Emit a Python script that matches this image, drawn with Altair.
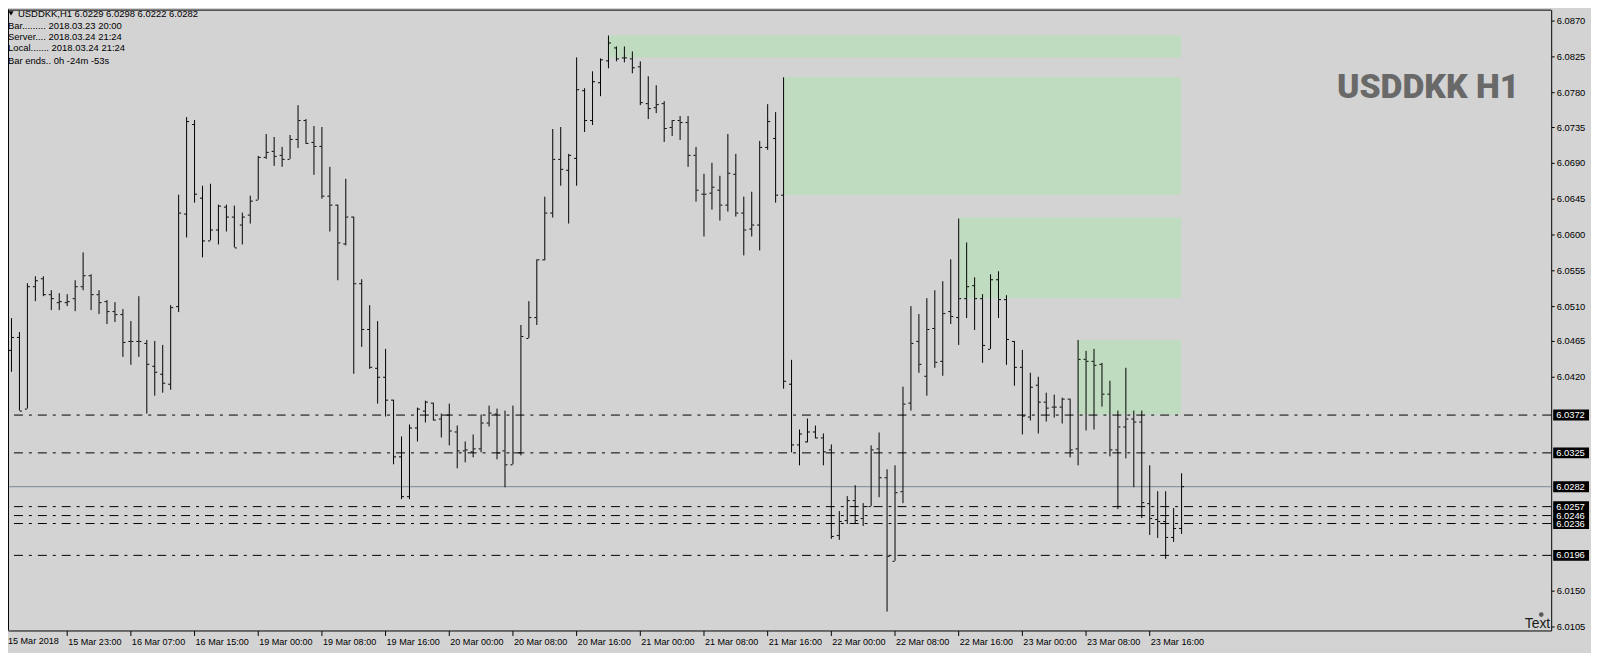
import altair as alt
import pandas as pd

# ---------------- data ----------------
opens = [6.0455, 6.0454, 6.0471, 6.0380, 6.0535, 6.0545, 6.0525, 6.0515, 6.0515, 6.0519,
         6.0534, 6.0548, 6.0525, 6.0516, 6.0503, 6.0500, 6.0466, 6.0466, 6.0463, 6.0434,
         6.0424, 6.0412, 6.0510, 6.0626, 6.0739, 6.0647, 6.0593, 6.0606, 6.0635, 6.0623,
         6.0612, 6.0625, 6.0644, 6.0698, 6.0706, 6.0700, 6.0695, 6.0720, 6.0745, 6.0717,
         6.0712, 6.0649, 6.0637, 6.0589, 6.0623, 6.0539, 6.0481, 6.0432, 6.0420, 6.0391,
         6.0320, 6.0270, 6.0356, 6.0378, 6.0388, 6.0367, 6.0373, 6.0351, 6.0327, 6.0326,
         6.0330, 6.0363, 6.0374, 6.0327, 6.0310, 6.0325, 6.0469, 6.0496, 6.0568, 6.0628,
         6.0695, 6.0682, 6.0697, 6.0782, 6.0744, 6.0792, 6.0820, 6.0836, 6.0823, 6.0822,
         6.0812, 6.0766, 6.0761, 6.0766, 6.0735, 6.0744, 6.0742, 6.0701, 6.0652, 6.0653,
         6.0657, 6.0637, 6.0677, 6.0628, 6.0607, 6.0613, 6.0710, 6.0722, 6.0650, 6.0412,
         6.0335, 6.0339, 6.0351, 6.0344, 6.0328, 6.0221, 6.0239, 6.0265, 6.0242, 6.0257,
         6.0330, 6.0293, 6.0188, 6.0276, 6.0388, 6.0465, 6.0422, 6.0482, 6.0440, 6.0503,
         6.0496, 6.0519, 6.0536, 6.0519, 6.0456, 6.0544, 6.0518, 6.0466, 6.0433, 6.0370,
         6.0410, 6.0389, 6.0383, 6.0383, 6.0393, 6.0330, 6.0443, 6.0440, 6.0436, 6.0399,
         6.0329, 6.0358, 6.0367, 6.0364, 6.0261, 6.0241, 6.0238, 6.0218, 6.0229]
highs = [6.0457, 6.0494, 6.0477, 6.0539, 6.0547, 6.0547, 6.0529, 6.0526, 6.0525, 6.0542,
         6.0577, 6.0550, 6.0530, 6.0517, 6.0515, 6.0506, 6.0491, 6.0522, 6.0467, 6.0465,
         6.0461, 6.0511, 6.0650, 6.0748, 6.0744, 6.0662, 6.0664, 6.0637, 6.0637, 6.0636,
         6.0627, 6.0649, 6.0699, 6.0727, 6.0723, 6.0710, 6.0726, 6.0763, 6.0746, 6.0737,
         6.0735, 6.0685, 6.0637, 6.0670, 6.0623, 6.0544, 6.0511, 6.0491, 6.0455, 6.0391,
         6.0345, 6.0360, 6.0381, 6.0390, 6.0388, 6.0374, 6.0386, 6.0359, 6.0339, 6.0347,
         6.0373, 6.0384, 6.0380, 6.0378, 6.0384, 6.0486, 6.0516, 6.0569, 6.0648, 6.0733,
         6.0735, 6.0702, 6.0824, 6.0785, 6.0806, 6.0822, 6.0851, 6.0837, 6.0837, 6.0831,
         6.0818, 6.0800, 6.0788, 6.0768, 6.0745, 6.0749, 6.0749, 6.0711, 6.0676, 6.0690,
         6.0674, 6.0727, 6.0702, 6.0648, 6.0654, 6.0718, 6.0764, 6.0755, 6.0798, 6.0442,
         6.0354, 6.0367, 6.0359, 6.0349, 6.0335, 6.0251, 6.0270, 6.0284, 6.0261, 6.0333,
         6.0350, 6.0304, 6.0309, 6.0408, 6.0510, 6.0500, 6.0520, 6.0529, 6.0541, 6.0569,
         6.0620, 6.0590, 6.0546, 6.0525, 6.0550, 6.0553, 6.0523, 6.0466, 6.0454, 6.0425,
         6.0420, 6.0400, 6.0398, 6.0394, 6.0393, 6.0467, 6.0453, 6.0455, 6.0438, 6.0415,
         6.0378, 6.0432, 6.0378, 6.0378, 6.0309, 6.0276, 6.0276, 6.0255, 6.0298]
lows = [6.0315, 6.0427, 6.0377, 6.0380, 6.0516, 6.0522, 6.0504, 6.0504, 6.0509, 6.0503,
        6.0530, 6.0504, 6.0499, 6.0487, 6.0490, 6.0445, 6.0435, 6.0446, 6.0374, 6.0396,
        6.0400, 6.0404, 6.0502, 6.0596, 6.0640, 6.0571, 6.0592, 6.0587, 6.0604, 6.0583,
        6.0587, 6.0614, 6.0644, 6.0696, 6.0687, 6.0685, 6.0695, 6.0709, 6.0714, 6.0675,
        6.0645, 6.0604, 6.0542, 6.0586, 6.0424, 6.0458, 6.0430, 6.0386, 6.0370, 6.0310,
        6.0266, 6.0266, 6.0339, 6.0363, 6.0365, 6.0344, 6.0334, 6.0305, 6.0312, 6.0319,
        6.0325, 6.0358, 6.0316, 6.0281, 6.0310, 6.0321, 6.0469, 6.0486, 6.0567, 6.0621,
        6.0662, 6.0614, 6.0662, 6.0729, 6.0738, 6.0775, 6.0810, 6.0818, 6.0817, 6.0803,
        6.0763, 6.0746, 6.0753, 6.0717, 6.0724, 6.0719, 6.0685, 6.0641, 6.0597, 6.0631,
        6.0617, 6.0629, 6.0623, 6.0573, 6.0597, 6.0580, 6.0707, 6.0640, 6.0405, 6.0325,
        6.0309, 6.0337, 6.0342, 6.0309, 6.0215, 6.0214, 6.0235, 6.0236, 6.0232, 6.0257,
        6.0268, 6.0124, 6.0188, 6.0261, 6.0377, 6.0425, 6.0396, 6.0431, 6.0422, 6.0487,
        6.0461, 6.0494, 6.0479, 6.0438, 6.0456, 6.0495, 6.0435, 6.0409, 6.0348, 6.0365,
        6.0349, 6.0364, 6.0369, 6.0361, 6.0318, 6.0309, 6.0352, 6.0354, 6.0383, 6.0320,
        6.0253, 6.0317, 6.0281, 6.0242, 6.0220, 6.0217, 6.0190, 6.0212, 6.0222]
closes = [6.0454, 6.0471, 6.0378, 6.0535, 6.0542, 6.0525, 6.0519, 6.0516, 6.0516, 6.0534,
          6.0548, 6.0525, 6.0515, 6.0503, 6.0499, 6.0464, 6.0466, 6.0466, 6.0436, 6.0426,
          6.0413, 6.0508, 6.0627, 6.0743, 6.0652, 6.0593, 6.0606, 6.0636, 6.0622, 6.0584,
          6.0623, 6.0643, 6.0698, 6.0704, 6.0699, 6.0695, 6.0720, 6.0745, 6.0715, 6.0712,
          6.0649, 6.0637, 6.0590, 6.0622, 6.0539, 6.0481, 6.0433, 6.0420, 6.0391, 6.0320,
          6.0270, 6.0356, 6.0380, 6.0389, 6.0366, 6.0373, 6.0352, 6.0327, 6.0328, 6.0330,
          6.0363, 6.0375, 6.0325, 6.0310, 6.0325, 6.0472, 6.0496, 6.0569, 6.0628, 6.0696,
          6.0683, 6.0700, 6.0783, 6.0744, 6.0793, 6.0821, 6.0842, 6.0822, 6.0823, 6.0811,
          6.0767, 6.0760, 6.0764, 6.0734, 6.0745, 6.0742, 6.0700, 6.0657, 6.0652, 6.0660,
          6.0638, 6.0678, 6.0628, 6.0606, 6.0613, 6.0710, 6.0743, 6.0650, 6.0415, 6.0335,
          6.0349, 6.0351, 6.0344, 6.0326, 6.0219, 6.0238, 6.0265, 6.0240, 6.0257, 6.0329,
          6.0293, 6.0194, 6.0274, 6.0387, 6.0463, 6.0437, 6.0480, 6.0439, 6.0501, 6.0497,
          6.0519, 6.0534, 6.0519, 6.0461, 6.0544, 6.0518, 6.0468, 6.0433, 6.0371, 6.0408,
          6.0389, 6.0381, 6.0383, 6.0393, 6.0329, 6.0443, 6.0440, 6.0435, 6.0399, 6.0329,
          6.0358, 6.0368, 6.0364, 6.0262, 6.0242, 6.0238, 6.0218, 6.0229, 6.0282]

time_labels = ["15 Mar 2018", "15 Mar 23:00", "16 Mar 07:00", "16 Mar 15:00",
               "19 Mar 00:00", "19 Mar 08:00", "19 Mar 16:00", "20 Mar 00:00",
               "20 Mar 08:00", "20 Mar 16:00", "21 Mar 00:00", "21 Mar 08:00",
               "21 Mar 16:00", "22 Mar 00:00", "22 Mar 08:00", "22 Mar 16:00",
               "23 Mar 00:00", "23 Mar 08:00", "23 Mar 16:00"]
label_step = 8

zone_start = [76, 98, 120, 135]
zone_end = [148, 148, 148, 148]
zone_top = [6.0851, 6.0798, 6.0621, 6.0467]
zone_bottom = [6.0823, 6.0650, 6.0519, 6.0373]

level_values = [6.0372, 6.0325, 6.0257, 6.0246, 6.0236, 6.0196]
bid_price = 6.0282

# price-scale labels that are not hidden under the level tags
y_ticks = [6.0105, 6.0150, 6.0420, 6.0465, 6.0510, 6.0555, 6.0600, 6.0645,
           6.0690, 6.0735, 6.0780, 6.0825, 6.0870]

header_lines = ["USDDKK,H1  6.0229 6.0298 6.0222 6.0282",
                "Bar......... 2018.03.23 20:00",
                "Server.... 2018.03.24 21:24",
                "Local....... 2018.03.24 21:24",
                "Bar ends.. 0h -24m -53s"]
watermark = "USDDKK H1"
object_label = "Text"

# ---------------- tables ----------------
bars = pd.DataFrame({"i": list(range(len(opens))), "o": opens, "h": highs,
                     "l": lows, "c": closes})
zones = pd.DataFrame({"s": zone_start, "e": zone_end, "t": zone_top, "b": zone_bottom})
levels = pd.DataFrame({"v": level_values})
tags = pd.DataFrame({"v": level_values[:2] + [bid_price] + level_values[2:]})
tags["label"] = tags["v"].map(lambda v: f"{v:.4f}")
one = pd.DataFrame({"a": [0]})

W, H = 1551, 624
FONT = "Liberation Sans"
BG = "#D3D3D3"

x_scale = alt.Scale(domain=[0.625, 194.5], round=True, nice=False, zero=False)
y_scale = alt.Scale(domain=[6.0099977, 6.0883818], round=True, nice=False, zero=False)

lab_js = "[" + ",".join("'" + s + "'" for s in time_labels[1:]) + "]"
x_axis = alt.Axis(orient="bottom", values=[label_step * k for k in range(1, len(time_labels))],
                  labelExpr=lab_js + f"[round(datum.value/{label_step})-1]",
                  title=None, grid=False, tickSize=5, tickColor="black", domainColor="black",
                  labelColor="black", labelFont=FONT, labelFontSize=9.1, labelAlign="left",
                  labelBaseline="top", labelPadding=2, labelOffset=1, labelOverlap=False,
                  labelFlush=False, zindex=0)
y_axis = alt.Axis(orient="right", values=y_ticks, format=".4f", title=None, grid=False,
                  tickSize=3, tickColor="black", domainColor="black", labelColor="black",
                  labelFont=FONT, labelFontSize=9.4, labelPadding=2, labelOverlap=False,
                  labelFlush=False, zindex=0)

def X(f):
    return alt.X(f, type="quantitative", scale=x_scale, axis=x_axis)

def Y(f):
    return alt.Y(f, type="quantitative", scale=y_scale, axis=y_axis)

zone_layer = alt.Chart(zones).mark_rect(color="#C0DCC0").encode(
    x=X("s"), x2="e", y=Y("t"), y2="b")

level_layer = alt.Chart(levels).mark_rule(
    color="black", strokeWidth=1, strokeDash=[9, 6, 3, 6], yOffset=0.5).encode(y=Y("v"))

bid_layer = alt.Chart(pd.DataFrame({"v": [bid_price]})).mark_rule(
    color="#778899", strokeWidth=1, yOffset=0.5).encode(y=Y("v"))

hl_layer = alt.Chart(bars).mark_rule(color="black", strokeWidth=1, xOffset=0.5).encode(
    x=X("i"), y=Y("l"), y2="h")

open_layer = alt.Chart(bars).transform_calculate(xa="datum.i - 0.25").mark_rule(
    color="black", strokeWidth=1, yOffset=0.5).encode(x=X("xa"), x2="i", y=Y("o"))

close_layer = alt.Chart(bars).transform_calculate(
    xa="datum.i + 0.125", xb="datum.i + 0.375").mark_rule(
    color="black", strokeWidth=1, yOffset=0.5).encode(x=X("xa"), x2="xb", y=Y("c"))

tag_box = alt.Chart(tags).mark_rule(color="black", strokeWidth=11, yOffset=0.5).encode(
    x=alt.value(W + 2), x2=alt.value(W + 38), y=Y("v"))
tag_text = alt.Chart(tags).mark_text(
    color="white", align="left", baseline="middle", font=FONT, fontSize=9.4, yOffset=0.5
).encode(x=alt.value(W + 5), y=Y("v"), text="label:N")

frame_left = alt.Chart(one).mark_rule(color="black", strokeWidth=1).encode(
    x=alt.value(0.5), y=alt.value(0), y2=alt.value(H))
frame_top = alt.Chart(one).mark_rule(color="black", strokeWidth=1).encode(
    y=alt.value(0.5), x=alt.value(0), x2=alt.value(W))

first_label = alt.Chart(one).mark_text(
    text=time_labels[0], align="left", baseline="top", font=FONT, fontSize=9.1,
    color="black").encode(x=alt.value(0), y=alt.value(H + 7))

tri = alt.Chart(one).mark_point(shape="triangle-down", filled=True, color="black",
                                size=26, opacity=1).encode(x=alt.value(3), y=alt.value(3.8))

header_layers = []
header_y = [4.2, 16.0, 27.5, 39.0, 51.3]
header_x = [10, 0, 0, 0, 0]
for k, line in enumerate(header_lines):
    header_layers.append(
        alt.Chart(one).mark_text(text=line, align="left", baseline="middle", font=FONT,
                                 fontSize=9.5, color="black")
        .encode(x=alt.value(header_x[k]), y=alt.value(header_y[k])))

wm = alt.Chart(one).mark_text(
    text=watermark, align="right", baseline="alphabetic",
    font="Roboto", fontSize=34, fontWeight=900, color="#696969").encode(
    x=alt.value(1519), y=alt.value(88.7))

skull = alt.Chart(one).mark_point(shape="circle", filled=True, color="#5a5a5a",
                                  size=22, opacity=1).encode(
    x=alt.value(W - 10), y=alt.value(H - 16))
text_obj = alt.Chart(one).mark_text(
    text=object_label, align="right", baseline="alphabetic", font=FONT, fontSize=14,
    color="#1a1a1a").encode(x=alt.value(W - 1), y=alt.value(H - 2))

chart = alt.layer(
    zone_layer, level_layer, bid_layer, hl_layer, open_layer, close_layer,
    tag_box, tag_text, frame_left, frame_top, first_label, tri, *header_layers, wm,
    skull, text_obj
).properties(
    width=W, height=H, background=BG,
    padding={"left": 0, "top": 0, "right": 40, "bottom": 21},
    autosize=alt.AutoSizeParams(type="none"),
).configure_view(strokeWidth=0, fill=BG)

chart.save("out.html", embed_options={"renderer": "svg", "actions": False})
